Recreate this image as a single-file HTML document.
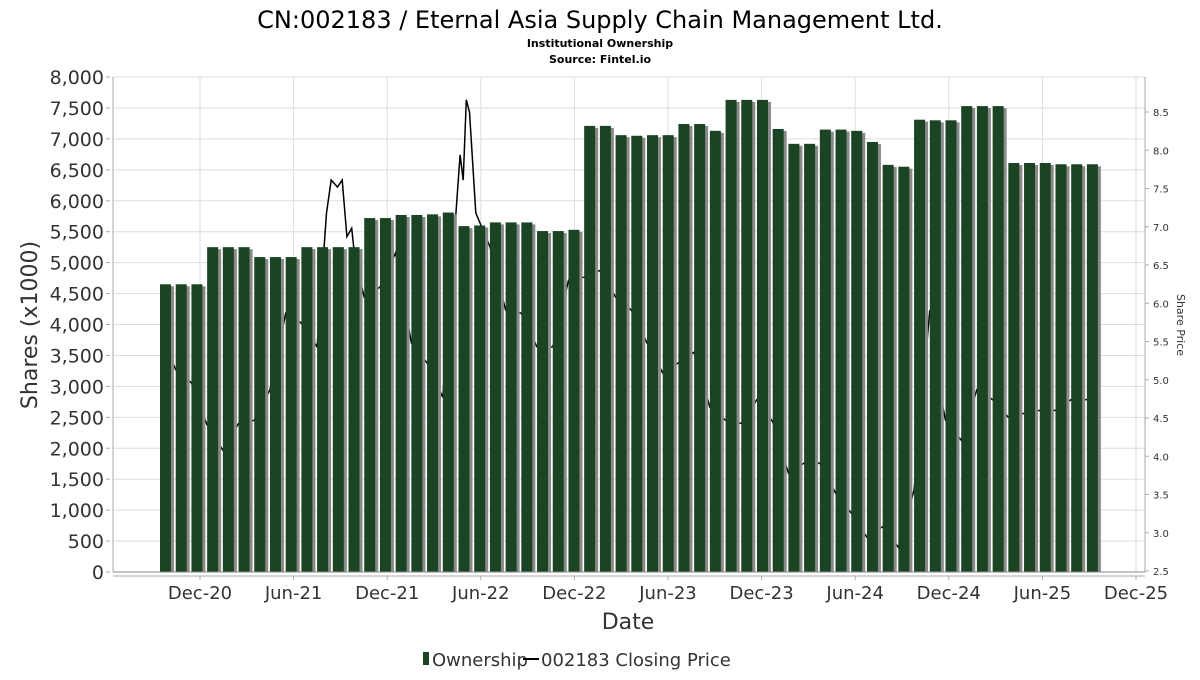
<!DOCTYPE html>
<html><head><meta charset="utf-8">
<style>
body{margin:0;background:#fff;}
svg text{font-family:"DejaVu Sans","Liberation Sans",sans-serif;}
</style></head>
<body>
<svg id="chart" width="1200" height="675" xmlns="http://www.w3.org/2000/svg">
<text x="600" y="28" font-size="24" text-anchor="middle" fill="#000">CN:002183 / Eternal Asia Supply Chain Management Ltd.</text>
<text x="600" y="47" font-size="11" font-weight="bold" text-anchor="middle">Institutional Ownership</text>
<text x="600" y="63" font-size="11" font-weight="bold" text-anchor="middle">Source: Fintel.io</text>
<g id="grid"></g>
<g id="line"></g>
<g id="bars"></g>
<g id="axes"></g>
<text transform="translate(37,325) rotate(-90)" font-size="22" text-anchor="middle" fill="#333">Shares (x1000)</text>
<text transform="translate(1177,325) rotate(90)" font-size="11" text-anchor="middle" fill="#333">Share Price</text>
<text x="628" y="629" font-size="22" text-anchor="middle" fill="#333">Date</text>
<g>
<rect x="423" y="652" width="6" height="13" fill="#1a4423"></rect>
<text x="432" y="666" font-size="18" fill="#333">Ownership</text>
<line x1="523" y1="659" x2="539" y2="659" stroke="#000" stroke-width="2"></line>
<text x="541" y="666" font-size="18" fill="#333">002183 Closing Price</text>
</g>
</svg>
<script>
const ownershipValues=[4650,4650,4650,5250,5250,5250,5090,5090,5090,5250,5250,5250,5250,5720,5720,5770,5770,5780,5810,5590,5600,5650,5650,5650,5510,5510,5530,7210,7210,7060,7050,7060,7060,7240,7240,7130,7630,7630,7630,7160,6920,6920,7150,7150,7130,6950,6580,6550,7310,7300,7300,7530,7530,7530,6610,6610,6610,6590,6590,6590];
const priceIdx=[0.85,1,2,3,4,5,6,7,8,9,10,10.6,10.9,11.3,11.6,11.9,12.2,12.4,13,14,15,16,17,18,19.1,19.3,19.5,19.7,20.1,21,22,23,24,25,26,27,28,29,30,31,32,33,34,35,36,37,38,39,40,41,42,43,44,45,46,47,48,49,49.5,50,51,52,53,54,55,56,57,58,59,59.3];
const priceValues=[5.2,5.13,4.96,4.41,4.08,4.43,4.47,4.87,5.87,5.74,5.43,7.18,7.61,7.52,7.61,6.87,6.98,6.6,6.08,6.21,6.66,5.48,5.22,4.77,7.94,7.61,8.66,8.5,7.18,6.74,5.91,5.87,5.43,5.43,6.3,6.34,6.43,6.08,5.91,5.48,5.09,5.22,5.36,4.64,4.47,4.43,4.74,4.45,3.78,3.91,3.91,3.52,3.26,2.94,3.08,2.81,3.56,5.91,5.0,4.47,4.21,4.87,4.74,4.51,4.56,4.6,4.6,4.74,4.74];
const yTicks=[0,500,1000,1500,2000,2500,3000,3500,4000,4500,5000,5500,6000,6500,7000,7500,8000];
const y2Ticks=[2.5,3.0,3.5,4.0,4.5,5.0,5.5,6.0,6.5,7.0,7.5,8.0,8.5];
const xTickLabels=["Dec-20","Jun-21","Dec-21","Jun-22","Dec-22","Jun-23","Dec-23","Jun-24","Dec-24","Jun-25","Dec-25"];
const NS="http://www.w3.org/2000/svg";
const L=113,R=1145,T=77,B=572;
const y=v=>B-v/8000*(B-T);
const y2=p=>571-(p-2.5)*76.5;
const xb=i=>160+i*15.71;
const xt=k=>200+k*93.6;
function mk(tag,attrs,parent){const e=document.createElementNS(NS,tag);for(const k in attrs)e.setAttribute(k,attrs[k]);parent.appendChild(e);return e;}
const grid=document.getElementById('grid'),axes=document.getElementById('axes'),bars=document.getElementById('bars'),line=document.getElementById('line');
yTicks.forEach(v=>{
 const g=mk('line',{x1:L,x2:R,y1:y(v),y2:y(v),stroke:'#ddd','stroke-width':1},grid);
 
 
 const t=mk('text',{x:104,y:y(v)+7,'font-size':19,'text-anchor':'end',fill:'#333'},axes);
 t.textContent=v.toLocaleString('en-US');
 
 
 const tk=mk('line',{x1:106,x2:110,y1:y(v),y2:y(v),stroke:'#aaa'},axes);
 
 
});
xTickLabels.forEach((s,k)=>{
 const g=mk('line',{x1:xt(k),x2:xt(k),y1:T,y2:B,stroke:'#ddd'},grid);
 
 
 const tk=mk('line',{x1:xt(k),x2:xt(k),y1:576,y2:580,stroke:'#aaa'},axes);
 
 
 const t=mk('text',{x:xt(k),y:599,'font-size':18,'text-anchor':'middle',fill:'#333'},axes);
 t.textContent=s;
 
 
});
y2Ticks.forEach(p=>{
 const t=mk('text',{x:1153,y:y2(p)+4,'font-size':10,fill:'#333'},axes);
 t.textContent=p.toFixed(1);
 
 
 const tk=mk('line',{x1:1145,x2:1149,y1:y2(p),y2:y2(p),stroke:'#aaa'},axes);
 
 
});
const pl=mk('polyline',{points:priceIdx.map((m,i)=>(xb(m)).toFixed(1)+','+y2(priceValues[i]).toFixed(1)).join(' '),fill:'none',stroke:'#000','stroke-width':1.5},line);


ownershipValues.forEach((v,i)=>{
 const s=mk('rect',{x:xb(i)+3,y:y(v)+2,width:11,height:B-y(v)-2,fill:'#8a8a8a'},bars);
 
 
 const r=mk('rect',{x:xb(i),y:y(v),width:11,height:B-y(v),fill:'#1a4423'},bars);
 
 
});
const a1=mk('line',{x1:L,x2:L,y1:T,y2:B,stroke:'#aaa'},axes);


const a2=mk('line',{x1:L,x2:R,y1:B,y2:B,stroke:'#888'},axes);


const a3=mk('line',{x1:L,x2:R,y1:576,y2:576,stroke:'#aaa'},axes);


const a4=mk('line',{x1:R,x2:R,y1:T,y2:B,stroke:'#aaa'},axes);


</script>
</body></html>
